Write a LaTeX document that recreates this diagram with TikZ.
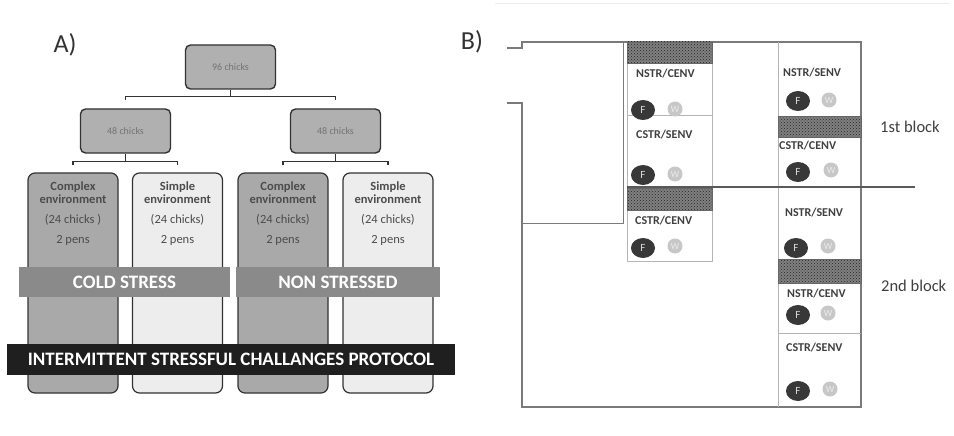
\documentclass[tikz,border=0pt]{standalone}
\usepackage{fontspec}
\setmainfont{Carlito}
\usetikzlibrary{patterns,shapes.geometric}
\definecolor{boxline}{HTML}{333333}
\definecolor{midgray}{HTML}{B0B0B0}
\definecolor{darkbox}{HTML}{A9A9A9}
\definecolor{lightbox}{HTML}{EDEDED}
\definecolor{bandgray}{HTML}{8A8A8A}
\definecolor{frame}{HTML}{7A7A7A}
\definecolor{cell}{HTML}{B5B5B5}
\tikzset{
  smallbox/.style={draw=boxline, line width=1.4pt, rounded corners=5pt, fill=midgray,
     minimum width=90pt, minimum height=44pt, inner sep=0pt, font=\fontsize{10}{10}\selectfont, text=black!55},
  tallbox/.style={draw=boxline, line width=1.2pt, rounded corners=7pt,
     minimum width=90pt, minimum height=220pt, inner sep=0pt},
  boxtext/.style={anchor=north, align=center, inner sep=0pt, text=black!70,
     font=\fontsize{12.5}{13}\selectfont},
  bracket/.style={draw=boxline, line width=1.4pt},
  band/.style={fill=bandgray, inner sep=0pt, minimum height=30pt, text=white,
     font=\bfseries\fontsize{19}{19}\selectfont},
  frameline/.style={draw=frame, line width=1.2pt},
  cellline/.style={draw=cell, line width=0.8pt},
  lab/.style={anchor=west, inner sep=0pt, font=\bfseries\fontsize{12}{12}\selectfont, text=black!75},
  fcirc/.style={ellipse, fill=black!78, minimum width=24pt, minimum height=20pt, inner sep=0pt,
     text=white!85!black, font=\fontsize{11}{11}\selectfont},
  wcirc/.style={circle, fill=black!22, minimum size=15pt, inner sep=0pt,
     text=black!8, font=\fontsize{9.5}{9.5}\selectfont},
  hatchbase/.style={fill=black!50},
  hatchfill/.style={pattern=crosshatch dots, pattern color=black!85},
  blocklab/.style={font=\fontsize{16.5}{16.5}\selectfont, text=black!75, anchor=west, inner sep=0pt},
}
\begin{document}
\begin{tikzpicture}[x=1pt,y=-1pt]
\useasboundingbox (0,0) rectangle (954,436);
\fill[white] (0,0) rectangle (954,436);
% ---------------- Panel A ----------------
\node[font=\fontsize{26}{26}\selectfont, text=black!80] (la) at (65,45) {A)};
\node[smallbox] (top) at (230.5,67) {96 chicks};
\node[smallbox] (l48) at (125.5,131) {48 chicks};
\node[smallbox] (r48) at (335.5,131) {48 chicks};
\draw[bracket] (top.south) -- ++(0,7) coordinate (tb);
\draw[bracket] ([yshift=8pt]l48.north) |- (tb) -| ([yshift=8pt]r48.north);
\draw[bracket] (l48.south) -- ++(0,8) coordinate (lb);
\draw[bracket] (r48.south) -- ++(0,8) coordinate (rb);
\node[tallbox, fill=darkbox]  (c1) at (73,283) {};
\node[tallbox, fill=lightbox] (s1) at (177.5,283) {};
\node[tallbox, fill=darkbox]  (c2) at (283,283) {};
\node[tallbox, fill=lightbox] (s2) at (388,283) {};
\draw[bracket] ([yshift=7pt]c1.north) |- (lb) -| ([yshift=7pt]s1.north);
\draw[bracket] ([yshift=7pt]c2.north) |- (rb) -| ([yshift=7pt]s2.north);
\node[boxtext] (tc1) at ([yshift=-9pt]c1.north) {\textbf{Complex}\\\textbf{environment}\\[7pt](24 chicks )\\[7pt]2 pens};
\node[boxtext] (ts1) at ([yshift=-9pt]s1.north) {\textbf{Simple}\\\textbf{environment}\\[7pt](24 chicks)\\[7pt]2 pens};
\node[boxtext] (tc2) at ([yshift=-9pt]c2.north) {\textbf{Complex}\\\textbf{environment}\\[7pt](24 chicks)\\[7pt]2 pens};
\node[boxtext] (ts2) at ([yshift=-9pt]s2.north) {\textbf{Simple}\\\textbf{environment}\\[7pt](24 chicks)\\[7pt]2 pens};
\node[band, minimum width=211pt] (cold) at (124.5,282) {COLD STRESS};
\node[band, minimum width=204pt] (non) at (338,282) {NON STRESSED};
\node[band, fill=black!88, minimum width=448pt, minimum height=31pt] (isc) at (231,359.5)
  {INTERMITTENT STRESSFUL CHALLANGES PROTOCOL};
% ---------------- Panel B ----------------
\draw[black!7, line width=1pt] (495,4) -- (950,4);
\node[font=\fontsize{26}{26}\selectfont, text=black!80] (lb2) at (472,42) {B)};
% frame
\coordinate (ft1) at (507,48);
\coordinate (ft2) at (522,42);
\coordinate (fr) at (861,42);
\coordinate (fb) at (861,407);
\coordinate (fl) at (522,407);
\coordinate (fs1) at (507,103);
\coordinate (fs2) at (522,103);
\draw[frameline] (ft1) -| (ft2) -- (fr) -- (fb) -- (fl) -- (fs2) -- (fs1);
\coordinate (ih) at (522,223);
\coordinate (iv) at (623,42);
\draw[frameline, line width=0.9pt] (ih) -| (iv);
% left column
\draw[cellline] (627,42) rectangle (712,261);
\draw[cellline] (627,115) -- (712,115);
\fill[hatchbase] (627,42) rectangle (712,63);
\fill[hatchfill] (627,42) rectangle (712,63);
\draw[black!60, line width=0.6pt] (627,42) rectangle (712,63);
% right column
\draw[cellline] (778,42) -- (778,407);
\draw[cellline] (778,333) -- (861,333);
\fill[hatchbase] (778,116) rectangle (861,137);
\fill[hatchfill] (778,116) rectangle (861,137);
\draw[black!60, line width=0.6pt] (778,116) rectangle (861,137);
\fill[hatchbase] (778,259) rectangle (861,283);
\fill[hatchfill] (778,259) rectangle (861,283);
\draw[black!60, line width=0.6pt] (778,259) rectangle (861,283);
% block divider
\draw[black!65, line width=2.4pt] (627,187) -- (915,187);
\fill[hatchbase] (627,188) rectangle (712,210);
\fill[hatchfill] (627,188) rectangle (712,210);
\draw[black!60, line width=0.6pt] (627,188) rectangle (712,210);
% labels left column
\node[lab] (a1) at (636,74) {NSTR/CENV};
\node[lab] (a2) at (636,135) {CSTR/SENV};
\node[lab] (a3) at (635,221) {CSTR/CENV};
\node[fcirc] (af1) at (643,110) {F};
\node[wcirc] (aw1) at (675,109) {W};
\node[fcirc] (af2) at (643,175) {F};
\node[wcirc] (aw2) at (675,174) {W};
\node[fcirc] (af3) at (643,248) {F};
\node[wcirc] (aw3) at (675,246) {W};
% labels right column
\node[lab] (b1) at (783,73) {NSTR/SENV};
\node[lab] (b2) at (779,146) {CSTR/CENV};
\node[lab] (b3) at (785,213) {NSTR/SENV};
\node[lab] (b4) at (787,294) {NSTR/CENV};
\node[lab] (b5) at (786,348) {CSTR/SENV};
\node[fcirc] (bf1) at (798,101) {F};
\node[wcirc] (bw1) at (829,100) {W};
\node[fcirc] (bf2) at (798,172) {F};
\node[wcirc] (bw2) at (831,170) {W};
\node[fcirc] (bf3) at (796,248) {F};
\node[wcirc] (bw3) at (828,246) {W};
\node[fcirc] (bf4) at (798,315) {F};
\node[wcirc] (bw4) at (828,313) {W};
\node[fcirc] (bf5) at (798,391) {F};
\node[wcirc] (bw5) at (830,389) {W};
% block labels
\node[blocklab] (blk1) at (880,127) {1st block};
\node[blocklab] (blk2) at (881,286) {2nd block};
\end{tikzpicture}
\end{document}
